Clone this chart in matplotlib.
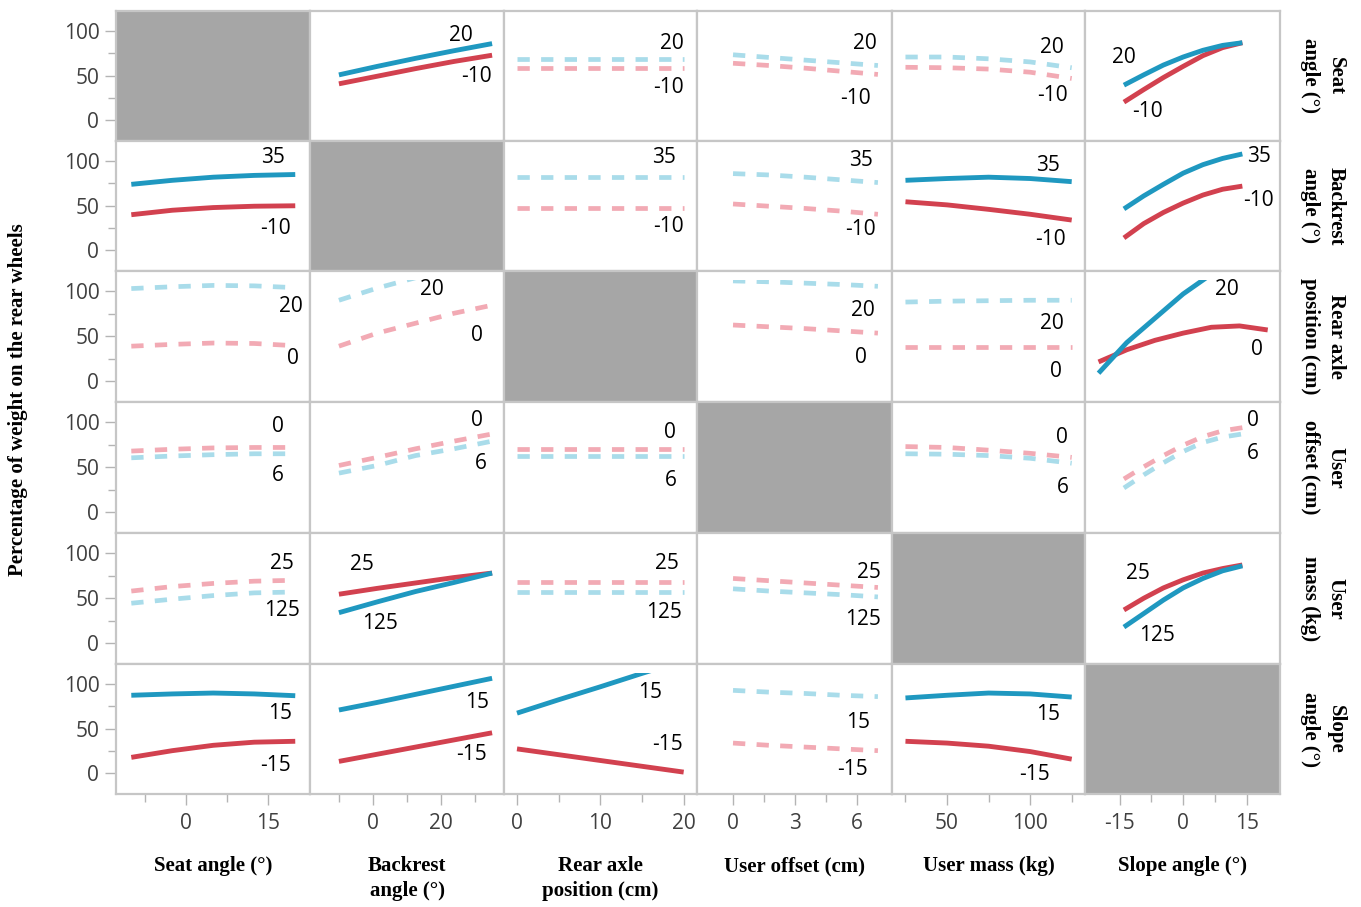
import matplotlib
matplotlib.use("Agg")
import matplotlib.pyplot as plt
from matplotlib.patches import Rectangle

plt.rcParams['font.family'] = ['Open Sans', 'DejaVu Sans']
plt.rcParams['axes.unicode_minus'] = False
serif = ['Liberation Serif', 'DejaVu Serif']

bottom_titles = ['Seat angle (°)', 'Backrest\nangle (°)', 'Rear axle\nposition (cm)',
                 'User offset (cm)', 'User mass (kg)', 'Slope angle (°)']
side_titles = ['Seat\nangle (°)', 'Backrest\nangle (°)', 'Rear axle\nposition (cm)',
               'User\noffset (cm)', 'User\nmass (kg)', 'Slope\nangle (°)']
hi_levels = ['20', '35', '20', '6', '125', '15']
lo_levels = ['-10', '-10', '0', '0', '25', '-15']

# x values for each column factor
seat_x = [-10, -2.5, 5, 12.5, 20]
backrest_x = [-10, 1.25, 12.5, 23.75, 35]
rear_x = [0, 5, 10, 15, 20]
offset_x = [0, 1.75, 3.5, 5.25, 7]
mass_x = [25, 50, 75, 100, 125]
slope_x = [-14, -9.33, -4.67, 0, 4.67, 9.33, 14]
slope_x_wide = [-20, -13.33, -6.67, 0, 6.67, 13.33, 20]   # rear axle row spans wider

# % of weight on rear wheels, one list per column (None = diagonal)
seat_hi = [None, [51, 60.5, 69.5, 78, 86], [69, 69, 69, 69, 69],
           [73.5, 70.5, 67.5, 64.5, 61.5], [71, 71, 69, 65.5, 59],
           [39.5, 51, 62, 71, 78.5, 84, 87]]
seat_lo = [None, [41, 49.5, 58, 66, 73], [58.5, 58.5, 58.5, 58.5, 58.5],
           [64, 61.5, 58.5, 55, 51.5], [59.5, 59, 57.5, 54, 47],
           [20.5, 34.5, 48, 60.5, 72.5, 81.5, 87]]

backrest_hi = [[74, 78.5, 82, 84, 85], None, [82, 82, 82, 82, 82],
               [86, 84.5, 82, 79, 76], [78.5, 80.5, 82, 80.5, 77],
               [46.5, 61, 74, 86.5, 96, 103, 108]]
backrest_lo = [[40, 45, 48, 49.5, 50], None, [48, 48, 48, 48, 48],
               [52, 49.5, 47, 44, 40.5], [54.5, 51, 46, 40.5, 34],
               [14, 30, 42.5, 53, 62, 68.5, 72]]

rear_hi = [[103, 105, 106.5, 106, 104], [90, 103.5, 115, 126, 137], None,
           [111.5, 110.5, 109, 107.5, 105.5], [88, 89, 89.5, 90, 90],
           [9, 43, 70, 97, 119, 138, 155]]
rear_lo = [[39, 41, 42.5, 42, 39.5], [39, 53.5, 64.5, 75.5, 84.5], None,
           [62.5, 60.5, 58.5, 56, 53.5], [38.5, 38.5, 38.5, 38.5, 38.5],
           [21.5, 35, 45.5, 53.5, 60, 61.5, 57]]

offset_hi = [[60.5, 62.5, 64, 65, 65], [43.5, 52, 63, 70.5, 79], [63, 63, 63, 63, 63],
             None, [65, 64.5, 63, 60, 54.5], [27, 41.5, 55, 67.5, 77.5, 83.5, 87]]
offset_lo = [[68, 70, 71.5, 72, 72], [52, 61, 70.5, 79, 87], [70, 70, 70, 70, 70],
             None, [73, 72, 69, 65.5, 61], [37, 50.5, 63, 74.5, 84, 90.5, 94]]

mass_hi = [[44.5, 49, 53, 56, 57], [34, 46, 57.5, 67.5, 78], [57.5, 57.5, 57.5, 57.5, 57.5],
           [60.5, 58, 56, 54, 51.5], None, [18, 33, 48, 61.5, 72, 80.5, 86]]
mass_lo = [[58, 63, 66.5, 69, 70], [54.5, 61, 67, 73, 78], [68, 68, 68, 68, 68],
           [72, 69.5, 67, 64.5, 62], None, [37, 50, 61.5, 70.5, 78, 83, 87]]

slope_hi = [[87.5, 89, 90, 89, 87], [71, 79.5, 88.5, 97.5, 106.5], [67.5, 82.5, 97, 112, 126.5],
            [93, 91, 89.5, 87.5, 86], [84.5, 87.5, 90, 89, 85.5], None]
slope_lo = [[18, 25.5, 31.5, 35, 36], [13.5, 21.5, 29.5, 37.5, 45.5], [27.5, 21, 14.5, 8, 1.5],
            [34, 31.5, 29.5, 27.5, 25.5], [36, 34, 30.5, 24.5, 16], None]

# 1 = significant interaction (solid), 0 = not significant (dashed)
solid = [[0, 1, 0, 0, 0, 1],
         [1, 0, 0, 0, 1, 1],
         [0, 0, 0, 0, 0, 1],
         [0, 0, 0, 0, 0, 0],
         [0, 1, 0, 0, 0, 1],
         [1, 1, 1, 0, 1, 0]]

hi_rows = [seat_hi, backrest_hi, rear_hi, offset_hi, mass_hi, slope_hi]
lo_rows = [seat_lo, backrest_lo, rear_lo, offset_lo, mass_lo, slope_lo]
col_x = [seat_x, backrest_x, rear_x, offset_x, mass_x, slope_x]

# level label placement (axes fraction)
hi_pos = [[None, (0.78, 0.81), (0.87, 0.75), (0.86, 0.75), (0.83, 0.72), (0.20, 0.64)],
          [(0.81, 0.87), None, (0.83, 0.87), (0.84, 0.85), (0.81, 0.81), (0.89, 0.88)],
          [(0.90, 0.73), (0.63, 0.86), None, (0.85, 0.70), (0.83, 0.60), (0.73, 0.855)],
          [(0.835, 0.44), (0.88, 0.53), (0.865, 0.40), None, (0.885, 0.35), (0.86, 0.61)],
          [(0.855, 0.41), (0.36, 0.31), (0.83, 0.39), (0.85, 0.34), None, (0.37, 0.22)],
          [(0.845, 0.62), (0.86, 0.70), (0.755, 0.78), (0.825, 0.55), (0.81, 0.61), None]]
lo_pos = [[None, (0.86, 0.50), (0.85, 0.41), (0.81, 0.33), (0.83, 0.35), (0.32, 0.23)],
          [(0.82, 0.33), None, (0.85, 0.34), (0.84, 0.32), (0.82, 0.24), (0.89, 0.54)],
          [(0.91, 0.33), (0.86, 0.51), None, (0.84, 0.34), (0.85, 0.23), (0.88, 0.40)],
          [(0.835, 0.81), (0.86, 0.86), (0.86, 0.77), None, (0.88, 0.73), (0.86, 0.86)],
          [(0.855, 0.77), (0.27, 0.76), (0.845, 0.77), (0.88, 0.70), None, (0.27, 0.69)],
          [(0.82, 0.22), (0.835, 0.30), (0.845, 0.38), (0.80, 0.19), (0.74, 0.15), None]]

xlims = [(-12.8, 22.7), (-18.5, 38.5), (-1.56, 21.6), (-1.74, 7.68), (16.9, 133), (-23.2, 22.9)]
major = [[0, 15], [0, 20], [0, 10, 20], [0, 3, 6], [50, 100], [-15, 0, 15]]
minor = [[-7.5, 7.5], [-10, 10, 30], [5, 15], [1.5, 4.5], [25, 75, 125], [-7.5, 7.5]]
ylim = (-23, 122.5)
y_clip = 112

W, H = 1361, 907
col_px = [116, 310, 504, 697, 892, 1085, 1280]
row_px = [11, 141, 271, 402, 533, 664, 794]

blue, red = '#1f98c0', '#d2414f'
blue_light, red_light = '#a9dcea', '#f2aab4'
edge = '#c6c6c6'
tick_col = '#b4b4b4'
label_col = '#404040'

fig = plt.figure(figsize=(W / 100, H / 100), dpi=100)

for r in range(6):
    for c in range(6):
        x0, x1 = col_px[c], col_px[c + 1]
        y0, y1 = row_px[r], row_px[r + 1]
        ax = fig.add_axes([x0 / W, 1 - y1 / H, (x1 - x0) / W, (y1 - y0) / H])
        ax.set_xlim(xlims[c])
        ax.set_ylim(ylim)
        for s in ax.spines.values():
            s.set_color(edge)
            s.set_linewidth(1.6)

        # ticks only on the outer panels
        if c == 0:
            ax.set_yticks([0, 50, 100])
            ax.set_yticks([25, 75], minor=True)
            ax.tick_params(axis='y', which='major', length=8, width=1, color=tick_col,
                           labelsize=15, labelcolor=label_col, pad=4)
            ax.tick_params(axis='y', which='minor', length=6, width=1, color=tick_col)
        else:
            ax.set_yticks([])
        if r == 5:
            ax.set_xticks(major[c])
            ax.set_xticks(minor[c], minor=True)
            ax.tick_params(axis='x', which='major', length=8, width=1, color=tick_col,
                           labelsize=15, labelcolor=label_col, pad=6)
            ax.tick_params(axis='x', which='minor', length=6, width=1, color=tick_col)
        else:
            ax.set_xticks([])

        if r == c:
            ax.set_facecolor('#a6a6a6')
            continue

        xs = col_x[c]
        if r == 2 and c == 5:
            xs = slope_x_wide
        clip = Rectangle((xlims[c][0], ylim[0]), xlims[c][1] - xlims[c][0],
                         y_clip - ylim[0], transform=ax.transData)
        if solid[r][c]:
            kw = dict(linewidth=3.5, solid_capstyle='butt', solid_joinstyle='round')
            cols = (red, blue)
        else:
            kw = dict(linewidth=3.4, linestyle=(0, (2.6, 2.4)), dash_capstyle='butt')
            cols = (red_light, blue_light)
        for ys, col in zip((lo_rows[r][c], hi_rows[r][c]), cols):
            ln, = ax.plot(xs, ys, color=col, **kw)
            ln.set_clip_path(clip)

        ax.text(*hi_pos[r][c], hi_levels[r], transform=ax.transAxes,
                ha='center', va='center', fontsize=15, color='black')
        ax.text(*lo_pos[r][c], lo_levels[r], transform=ax.transAxes,
                ha='center', va='center', fontsize=15, color='black')

# factor titles
for c in range(6):
    cx = (col_px[c] + col_px[c + 1]) / 2 / W
    fig.text(cx, 1 - 856 / H, bottom_titles[c], ha='center', va='top', fontsize=15,
             fontweight='bold', family=serif, linespacing=1.35)
for r in range(6):
    cy = 1 - (row_px[r] + row_px[r + 1]) / 2 / H
    fig.text(1323 / W, cy, side_titles[r], ha='center', va='center', rotation=270,
             fontsize=15, fontweight='bold', family=serif, linespacing=1.35,
             multialignment='center')

fig.text(18 / W, 1 - 400 / H, 'Percentage of weight on the rear wheels', rotation=90,
         ha='center', va='center', fontsize=15, fontweight='bold', family=serif)

fig.savefig('out.png', dpi=100)
